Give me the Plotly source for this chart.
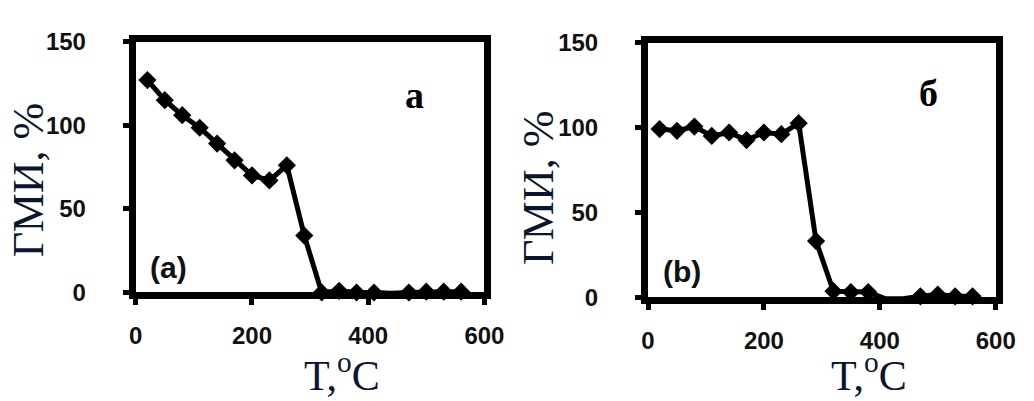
import plotly.graph_objects as go

# Panel (a)
t_a = [20, 50, 80, 110, 140, 170, 200, 230, 260, 290, 320, 350, 380, 410, 440, 470, 500, 530, 560]
gmi_a = [127, 115, 106, 98.5, 89, 79, 70, 67, 76, 34, 0, 1, 0, 0, -0.5, 0, 0.5, 0.5, 0.5]

# Panel (b)
t_b = [20, 50, 80, 110, 140, 170, 200, 230, 260, 290, 320, 350, 380, 410, 440, 470, 500, 530, 560]
gmi_b = [99, 98, 100.5, 95, 97, 92.5, 97, 96, 102.5, 33, 3.5, 3, 3, -1, -1, 0.5, 1.5, 0.5, 0.5]

x_ticks = [0, 200, 400, 600]
y_ticks = [0, 50, 100, 150]

W, H = 1034, 401
TXT = "#0b1530"

fig = go.Figure()
for i, (xs, ys) in enumerate([(t_a, gmi_a), (t_b, gmi_b)]):
    sfx = "" if i == 0 else "2"
    fig.add_trace(go.Scatter(
        x=xs, y=ys, mode="lines+markers",
        line=dict(color="black", width=5),
        marker=dict(symbol="diamond", size=14, color="black"),
        cliponaxis=False, showlegend=False,
        xaxis="x" + sfx, yaxis="y" + sfx,
    ))

tickfont = dict(family="Liberation Sans, Arial", size=24, color="#111111", weight="bold")
common_x = dict(range=[0, 600], tickvals=x_ticks, showgrid=False, zeroline=False,
                showline=True, linecolor="black", linewidth=7, mirror=True,
                ticks="outside", ticklen=6, tickwidth=5, tickcolor="black",
                tickfont=tickfont, ticklabelstandoff=10)
common_y = dict(range=[0, 150], tickvals=y_ticks, showgrid=False, zeroline=False,
                showline=True, linecolor="black", linewidth=7, mirror=True,
                ticks="outside", ticklen=6, tickwidth=5, tickcolor="black",
                tickfont=tickfont, ticklabelstandoff=32)

fig.update_layout(
    width=W, height=H,
    margin=dict(l=0, r=0, t=0, b=0),
    paper_bgcolor="white", plot_bgcolor="white",
    xaxis=dict(domain=[124 / W, 482 / W], anchor="y", **common_x),
    yaxis=dict(domain=[1 - 290 / H, 1 - 21 / H], anchor="x", **common_y),
    xaxis2=dict(domain=[650 / W, 1007 / W], anchor="y2", **common_x),
    yaxis2=dict(domain=[1 - 295 / H, 1 - 22 / H], anchor="x2", **common_y),
)

serif = "Liberation Serif, Times New Roman, serif"
anns = [
    # axis titles
    dict(text="ГМИ, %", x=14 / W, y=1 - 170 / H, textangle=-90,
         font=dict(family=serif, size=44, color=TXT)),
    dict(text="ГМИ, %", x=537 / W, y=1 - 178 / H, textangle=-90,
         font=dict(family=serif, size=44, color=TXT)),
    dict(text="T,<sup>o</sup>C", x=336 / W, y=1 - 376 / H,
         font=dict(family=serif, size=42, color=TXT)),
    dict(text="T,<sup>o</sup>C", x=877 / W, y=1 - 376 / H,
         font=dict(family=serif, size=42, color=TXT)),
    # panel letters
    dict(text="<b>a</b>", x=410 / W, y=1 - 78 / H,
         font=dict(family=serif, size=38, color="black")),
    dict(text="<b>б</b>", x=938 / W, y=1 - 76 / H,
         font=dict(family=serif, size=38, color="black")),
    dict(text="(a)", x=158 / W, y=1 - 263 / H,
         font=dict(family="Liberation Sans, Arial", size=30, color="#111111", weight=600)),
    dict(text="(b)", x=685 / W, y=1 - 267 / H,
         font=dict(family="Liberation Sans, Arial", size=30, color="#111111", weight=600)),
]
for a in anns:
    a.update(xref="paper", yref="paper", showarrow=False, xanchor="center", yanchor="middle")
    fig.add_annotation(**a)

fig.write_html("out.html")
